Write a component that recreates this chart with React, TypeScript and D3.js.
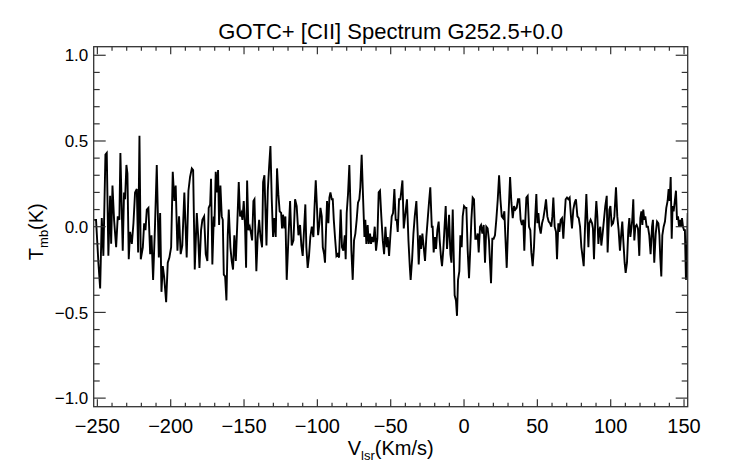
import React from 'react';
import * as d3 from 'd3';

// GOTC+ [CII] spectrum toward G252.5+0.0: [V_lsr (km/s), T_mb (K)]
const spectrum: [number, number][] = [
  [-252.2, 0.04], [-250.9, 0.04], [-249.3, -0.21], [-248.1, -0.36], [-247.0, 0.05], [-245.9, -0.17],
  [-244.5, 0.42], [-243.6, 0.43], [-242.5, -0.17], [-241.3, 0.18], [-240.6, -0.1], [-239.7, 0.24],
  [-238.6, 0.04], [-237.2, -0.12], [-236.1, 0.06], [-235.0, 0.04], [-234.3, 0.43], [-232.7, -0.14],
  [-231.8, 0.2], [-231.1, 0.16], [-230.2, 0.36], [-229.5, 0.31], [-228.6, -0.19], [-227.7, -0.03],
  [-226.5, -0.1], [-225.4, 0.02], [-224.3, 0.2], [-223.1, 0.22], [-222.2, -0.15], [-221.3, 0.53],
  [-220.4, -0.19], [-219.0, -0.12], [-218.1, 0.02], [-217.2, -0.02], [-216.3, 0.1], [-215.2, 0.11],
  [-214.0, -0.16], [-213.1, -0.05], [-212.0, -0.31], [-210.8, -0.02], [-209.5, 0.36], [-208.1, -0.18],
  [-207.2, 0.08], [-206.3, -0.38], [-205.4, -0.23], [-204.5, -0.29], [-203.1, -0.44], [-202.0, -0.21],
  [-200.9, -0.18], [-199.7, -0.12], [-198.6, 0.32], [-197.5, 0.15], [-196.6, 0.24], [-195.4, -0.14],
  [-194.3, 0.06], [-193.2, -0.16], [-192.1, -0.11], [-190.7, 0.2], [-189.1, -0.18],
  [-187.9, 0.21], [-186.8, 0.29], [-185.6, 0.34], [-184.7, 0.33], [-183.6, -0.25], [-182.2, 0.08],
  [-181.3, -0.05], [-180.4, -0.24], [-179.3, -0.02], [-178.4, 0.04], [-177.2, 0.06], [-176.1, -0.16],
  [-175.0, -0.2], [-174.1, 0.11], [-173.1, 0.13], [-172.5, 0.28], [-171.6, -0.22], [-170.6, 0.06],
  [-170.2, 0.0], [-169.3, 0.32], [-168.4, 0.2], [-167.7, 0.33], [-167.0, 0.01], [-166.1, 0.24],
  [-165.2, 0.06], [-164.5, 0.04], [-163.8, -0.28], [-162.9, -0.29], [-162.0, -0.43], [-161.1, -0.05],
  [-160.4, 0.1], [-159.3, -0.12], [-158.4, -0.2], [-157.5, -0.25], [-156.6, -0.05], [-155.6, -0.2],
  [-154.5, 0.04], [-153.6, 0.26], [-152.7, 0.06], [-151.8, 0.08], [-151.1, 0.04], [-150.2, 0.15],
  [-149.3, 0.0], [-148.6, -0.24], [-147.9, 0.27], [-147.0, -0.02], [-146.1, 0.0], [-145.4, -0.03],
  [-144.5, -0.08], [-143.6, 0.15], [-142.9, 0.16], [-141.6, -0.26], [-140.7, -0.06], [-139.7, 0.04],
  [-138.8, -0.06], [-137.7, -0.12], [-137.0, 0.26], [-136.1, 0.3], [-134.7, -0.11], [-133.8, 0.21],
  [-132.9, 0.35], [-132.0, 0.47], [-131.1, 0.16], [-130.2, -0.06], [-129.3, 0.05], [-128.4, -0.06],
  [-127.5, 0.34], [-126.6, 0.19], [-125.7, 0.09], [-124.7, 0.08], [-124.1, -0.01], [-123.4, 0.07],
  [-122.5, -0.01], [-121.8, 0.06], [-120.9, -0.31], [-119.7, -0.06], [-118.6, 0.15], [-117.5, -0.11],
  [-116.3, -0.08], [-115.2, 0.16], [-114.1, 0.12], [-112.9, -0.05], [-111.8, 0.01], [-110.9, -0.11],
  [-110.0, -0.17], [-109.1, -0.02], [-108.2, 0.13], [-107.5, -0.12], [-106.6, -0.24], [-105.7, -0.17],
  [-104.8, -0.06], [-103.8, 0.0], [-102.7, -0.06], [-102.0, 0.1], [-101.1, 0.27], [-100.4, 0.14],
  [-99.5, -0.05], [-98.6, 0.02], [-97.9, 0.11], [-97.0, 0.06], [-96.3, -0.12], [-95.4, -0.16],
  [-94.8, -0.21], [-94.1, -0.02], [-93.4, 0.15], [-92.5, 0.02], [-91.8, 0.17], [-91.1, 0.2],
  [-90.2, 0.16], [-89.5, 0.16], [-88.8, 0.04], [-87.9, -0.07], [-87.0, -0.17], [-86.1, -0.16],
  [-85.2, -0.18], [-84.1, 0.1], [-83.2, -0.12], [-82.3, -0.14], [-81.3, -0.05], [-80.7, -0.19],
  [-80.0, 0.08], [-79.1, 0.19], [-78.2, 0.36], [-77.5, 0.14], [-76.8, -0.14], [-75.9, -0.31],
  [-75.0, -0.08], [-74.1, -0.04], [-73.2, 0.04], [-72.3, 0.14], [-71.4, 0.16], [-70.7, 0.23],
  [-69.8, 0.42], [-68.8, 0.16], [-67.9, -0.06], [-67.3, 0.04], [-66.6, -0.1], [-65.7, 0.01],
  [-65.0, -0.1], [-64.1, -0.04], [-63.4, -0.1], [-62.7, -0.06], [-61.8, -0.09], [-60.9, 0.0],
  [-60.0, -0.14], [-59.1, -0.07], [-58.2, 0.2], [-57.3, 0.21], [-56.4, 0.06], [-55.4, -0.08],
  [-54.5, -0.16], [-53.6, 0.0], [-52.7, -0.12], [-52.0, -0.06], [-51.1, -0.17], [-50.2, -0.05],
  [-49.3, 0.06], [-48.4, 0.08], [-47.5, 0.22], [-46.6, 0.04], [-45.9, 0.04], [-45.2, -0.03],
  [-44.3, 0.16], [-43.4, 0.16], [-42.0, 0.27], [-41.1, -0.01], [-40.2, 0.06], [-38.9, 0.16],
  [-37.9, -0.08], [-37.0, -0.23], [-36.4, -0.31], [-35.4, -0.19], [-34.5, -0.04], [-33.6, 0.06],
  [-32.5, 0.15], [-31.6, -0.04], [-30.9, -0.22], [-30.0, -0.05], [-29.3, -0.13], [-28.4, -0.04],
  [-27.5, -0.12], [-26.6, -0.2], [-25.7, -0.06], [-24.8, 0.04], [-23.9, 0.14], [-23.0, 0.23],
  [-22.0, 0.0], [-21.4, 0.0], [-20.7, -0.15], [-19.8, -0.06], [-19.1, -0.13], [-18.2, -0.02],
  [-17.3, 0.03], [-16.6, -0.08], [-15.7, -0.18], [-15.0, -0.23], [-14.1, -0.13], [-13.4, -0.02],
  [-12.5, 0.12], [-11.6, -0.13], [-10.9, -0.04], [-10.2, 0.07], [-9.3, -0.16], [-8.6, -0.21],
  [-7.7, 0.1], [-7.0, -0.18], [-6.4, -0.4], [-5.5, -0.43], [-4.8, -0.52], [-4.1, -0.31],
  [-3.2, -0.26], [-2.5, -0.05], [-1.6, -0.12], [-0.9, 0.06], [0.0, 0.12], [0.9, 0.11],
  [1.6, 0.11], [2.5, -0.14], [3.4, -0.3], [4.3, -0.12], [5.0, 0.04], [5.9, 0.17],
  [6.8, 0.16], [7.7, -0.07], [8.6, -0.07], [9.3, -0.04], [10.0, -0.15], [10.9, 0.0],
  [11.6, 0.01], [12.5, -0.04], [13.4, 0.01], [14.3, -0.21], [15.2, 0.0], [16.1, -0.01],
  [17.0, -0.08], [17.7, -0.21], [18.4, -0.33], [19.3, -0.07], [20.2, -0.07], [21.1, -0.05],
  [22.0, 0.04], [23.0, 0.16], [23.9, 0.3], [24.8, 0.16], [25.7, 0.06], [26.6, 0.05],
  [27.5, 0.09], [28.2, -0.06], [29.1, -0.24], [30.2, 0.04], [31.4, 0.29], [32.3, 0.14],
  [33.2, 0.05], [34.1, 0.12], [35.0, 0.1], [35.9, 0.11], [36.8, 0.16], [37.7, 0.16],
  [38.6, 0.04], [39.5, 0.01], [40.4, 0.04], [41.1, -0.14], [41.8, 0.04], [42.5, 0.17],
  [43.4, 0.18], [44.3, 0.0], [45.2, -0.02], [45.9, -0.15], [46.8, -0.23], [47.7, -0.12],
  [48.6, 0.07], [49.3, 0.19], [50.0, 0.02], [50.7, 0.08], [51.4, 0.0], [52.3, -0.04],
  [53.2, 0.02], [54.1, 0.05], [55.0, 0.1], [55.9, 0.16], [56.8, 0.06], [57.7, 0.03],
  [58.6, 0.02], [59.5, 0.0], [60.2, 0.06], [60.9, 0.17], [61.8, 0.0], [62.7, -0.03],
  [63.4, -0.19], [64.3, 0.02], [65.0, -0.03], [65.9, 0.04], [66.8, 0.05], [67.7, -0.07],
  [68.4, 0.04], [69.3, 0.16], [70.2, 0.17], [71.1, 0.16], [72.0, 0.17], [72.9, 0.06],
  [73.6, -0.01], [74.5, 0.1], [75.4, 0.14], [76.3, 0.16], [77.3, 0.06], [78.2, 0.05],
  [79.1, 0.0], [80.0, -0.12], [80.9, -0.18], [81.6, -0.23], [82.5, 0.0], [83.4, 0.19],
  [84.1, 0.04], [84.8, -0.12], [85.4, 0.02], [86.3, 0.04], [87.3, 0.02], [87.9, -0.01],
  [88.6, -0.19], [89.5, 0.04], [90.2, 0.15], [90.9, 0.06], [91.6, -0.1], [92.3, -0.02],
  [92.9, 0.0], [93.6, -0.11], [94.5, -0.04], [95.4, 0.04], [96.3, 0.12], [97.3, 0.18],
  [97.9, -0.15], [98.8, 0.04], [99.1, 0.1], [99.8, 0.12], [100.7, 0.01], [101.6, 0.02],
  [102.5, 0.06], [103.6, 0.23], [104.5, 0.06], [105.4, -0.02], [106.3, -0.14], [107.2, -0.04],
  [107.9, 0.03], [108.6, -0.08], [109.5, -0.21], [110.2, -0.27], [111.1, -0.21], [112.0, -0.02],
  [112.7, 0.05], [113.4, -0.06], [114.1, -0.01], [114.7, 0.04], [115.4, 0.16], [116.1, -0.08],
  [116.8, 0.0], [117.7, 0.01], [118.6, -0.01], [119.5, -0.17], [120.2, 0.05], [120.9, 0.09],
  [121.6, 0.01], [122.2, 0.1], [122.9, 0.04], [123.6, 0.06], [124.5, 0.0], [125.4, 0.0],
  [126.3, -0.05], [127.2, -0.16], [128.2, 0.0], [128.8, 0.04], [129.7, -0.21], [130.7, -0.04],
  [131.6, 0.03], [132.5, 0.02], [133.2, -0.05], [133.8, -0.18], [134.5, -0.29], [135.2, -0.05],
  [136.1, 0.0], [137.0, 0.03], [137.9, 0.11], [138.8, 0.15], [139.5, 0.22], [140.2, 0.15],
  [140.9, 0.29], [141.6, -0.07], [142.2, 0.12], [142.9, 0.09], [143.6, 0.14], [144.5, 0.21],
  [145.2, 0.04], [145.9, 0.06], [146.6, 0.0], [147.2, 0.04], [147.9, 0.0], [148.6, 0.05],
  [149.3, 0.0], [150.0, -0.02], [150.6, -0.02], [151.3, -0.31], [152.0, -0.16], [152.5, 0.08],
];

const xDomain: [number, number] = [-252.5, 152.5];
const yDomain: [number, number] = [-1.05, 1.05];
const xMajorTicks = [-250, -200, -150, -100, -50, 0, 50, 100, 150];
const yMajorTicks = [-1.0, -0.5, 0.0, 0.5, 1.0];
const xTickLabels = ['\u2212250', '\u2212200', '\u2212150', '\u2212100', '\u221250', '0', '50', '100', '150'];
const yTickLabels = ['\u22121.0', '\u22120.5', '0.0', '0.5', '1.0'];

const W = 742;
const H = 464;
const plot = { left: 93.7, right: 687.7, top: 46.7, bottom: 406.7 };
const FONT = '"Liberation Sans", Arial, Helvetica, sans-serif';
const AXIS = '#333';

export default function App() {
  const x = d3.scaleLinear().domain(xDomain).range([plot.left, plot.right]);
  const y = d3.scaleLinear().domain(yDomain).range([plot.bottom, plot.top]);

  const line = d3
    .line<[number, number]>()
    .x((d) => x(d[0]))
    .y((d) => y(d[1]));

  // minor ticks every 10 km/s and 0.1 K
  const xMinor = x.ticks(40).filter((t) => !xMajorTicks.includes(t));
  const yMinor = y.ticks(20).filter((t) => !yMajorTicks.some((m) => Math.abs(m - t) < 1e-6));

  const xMajLen = 7.5;
  const xMinLen = 4;
  const yMajLen = 12;
  const yMinLen = 6;

  return (
    <div style={{ position: 'absolute', left: 0, top: 0 }}>
      <svg width={W} height={H} style={{ display: 'block', background: '#fff' }} fontFamily={FONT}>
        <defs>
          <clipPath id="plot-clip">
            <rect x={plot.left} y={plot.top} width={plot.right - plot.left} height={plot.bottom - plot.top} />
          </clipPath>
        </defs>

        <path
          d={line(spectrum) || ''}
          fill="none"
          stroke="#000"
          strokeWidth={1.9}
          clipPath="url(#plot-clip)"
        />

        {/* frame */}
        <rect
          x={plot.left}
          y={plot.top}
          width={plot.right - plot.left}
          height={plot.bottom - plot.top}
          fill="none"
          stroke={AXIS}
          strokeWidth={1.3}
        />

        {/* x ticks, bottom and top */}
        <g stroke={AXIS} strokeWidth={1.2}>
          {xMajorTicks.map((t) => (
            <g key={`xm${t}`}>
              <line x1={x(t)} x2={x(t)} y1={plot.bottom} y2={plot.bottom - xMajLen} />
              <line x1={x(t)} x2={x(t)} y1={plot.top} y2={plot.top + xMajLen} />
            </g>
          ))}
          {xMinor.map((t) => (
            <g key={`xn${t}`}>
              <line x1={x(t)} x2={x(t)} y1={plot.bottom} y2={plot.bottom - xMinLen} />
              <line x1={x(t)} x2={x(t)} y1={plot.top} y2={plot.top + xMinLen} />
            </g>
          ))}
          {yMajorTicks.map((t) => (
            <g key={`ym${t}`}>
              <line x1={plot.left} x2={plot.left + yMajLen} y1={y(t)} y2={y(t)} />
              <line x1={plot.right} x2={plot.right - yMajLen} y1={y(t)} y2={y(t)} />
            </g>
          ))}
          {yMinor.map((t) => (
            <g key={`yn${t}`}>
              <line x1={plot.left} x2={plot.left + yMinLen} y1={y(t)} y2={y(t)} />
              <line x1={plot.right} x2={plot.right - yMinLen} y1={y(t)} y2={y(t)} />
            </g>
          ))}
        </g>

        {/* tick labels */}
        {xMajorTicks.map((t, i) => (
          <text key={`xl${t}`} x={x(t)} y={433.3} fontSize={20} textAnchor="middle" fill="#000">
            {xTickLabels[i]}
          </text>
        ))}
        {yMajorTicks.map((t, i) => (
          <text key={`yl${t}`} x={88.3} y={y(t) + 6.2} fontSize={17} textAnchor="end" fill="#000">
            {yTickLabels[i]}
          </text>
        ))}

        {/* title */}
        <text x={(plot.left + plot.right) / 2} y={39.3} fontSize={22} textAnchor="middle" fill="#000">
          GOTC+ [CII] Spectrum G252.5+0.0
        </text>

        {/* axis titles */}
        <text x={(plot.left + plot.right) / 2} y={455} fontSize={20} textAnchor="middle" fill="#000">
          V<tspan fontSize={13} dy={5}>lsr</tspan>
          <tspan dy={-5}>(Km/s)</tspan>
        </text>
        <text
          transform={`translate(43.3, 231.7) rotate(-90)`}
          fontSize={20}
          textAnchor="middle"
          fill="#000"
        >
          T<tspan fontSize={13} dy={5}>mb</tspan>
          <tspan dy={-5}>(K)</tspan>
        </text>
      </svg>
    </div>
  );
}
